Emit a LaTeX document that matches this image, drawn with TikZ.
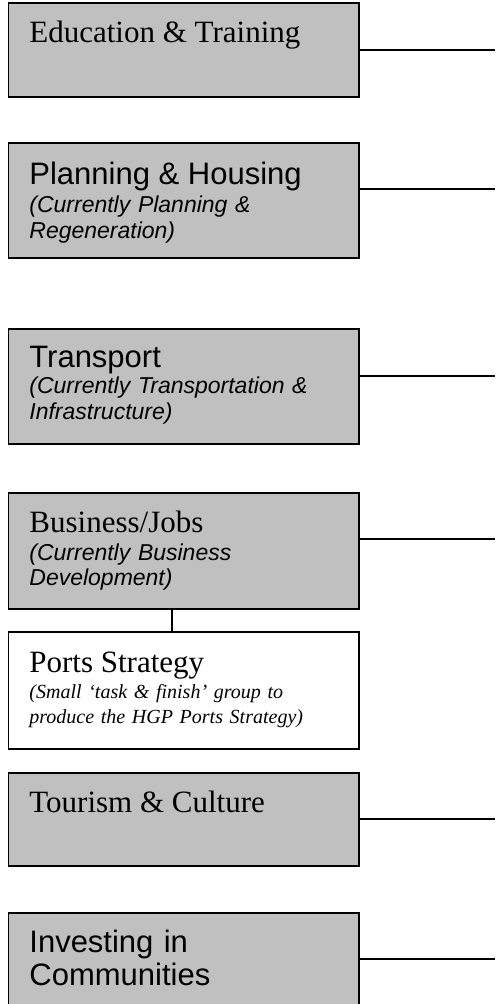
\documentclass[tikz,border=0pt]{standalone}
\usepackage{fontspec}
\setmainfont{Liberation Serif}
\setsansfont{Liberation Sans}
\usepackage{tikz}
\usetikzlibrary{fit}
\definecolor{boxgrey}{HTML}{C0C0C0}

\begin{document}
\begin{tikzpicture}[x=0.5pt,y=-0.5pt,
  group/.style={draw=black, line width=0.7pt, fill=boxgrey, inner sep=0pt},
  subgroup/.style={group, fill=white},
  link/.style={draw=black, line width=0.6pt},
  title/.style={anchor=base west, inner sep=0pt, font=\fontsize{15.5}{16.8}\selectfont},
  sanstitle/.style={title, font=\sffamily\fontsize{15.5}{16.8}\selectfont},
  note/.style={anchor=base west, inner sep=0pt, text width=170pt, align=left,
    font=\sffamily\itshape\fontsize{11.5}{12.7}\selectfont},
  smallnote/.style={note, font=\rmfamily\itshape\fontsize{10}{12.5}\selectfont}]
\useasboundingbox (0,0) rectangle (495,1004);
\clip (0,0) rectangle (495,1004);

% boxes
\node [group, fit={(8.5,3) (359,97)}] (edu) {};
\node [group, fit={(8.5,143) (359,258)}] (plan) {};
\node [group, fit={(8.5,329) (359,444)}] (trans) {};
\node [group, fit={(8.5,493) (359,609)}] (bus) {};
\node [subgroup, fit={(8.5,632) (359,749)}] (ports) {};
\node [group, fit={(8.5,773) (359,866)}] (tour) {};
\node [group, fit={(8.5,913) (359,1060)}] (inv) {};

% texts
\node [title] at (29,43) {Education \& Training};
\node [sanstitle] at (29,185) {Planning \& Housing};
\node [note] at (29,213) {(Currently Planning \&\\Regeneration)};
\node [sanstitle] at (29,368) {Transport};
\node [note] at (29,394) {(Currently Transportation \&\\Infrastructure)};
\node [title] at (29,532) {Business/Jobs};
\node [note] at (29,560) {(Currently Business\\Development)};
\node [title] at (29,672) {Ports Strategy};
\node [smallnote] at (29,698) {(Small `task \& finish' group to\\produce the HGP Ports Strategy)};
\node [title] at (29,812) {Tourism \& Culture};
\node [sanstitle, text width=170pt, align=left] at (29,952) {Investing in\\Communities};

% connectors
\coordinate (eduR) at (495,50);
\coordinate (planR) at (495,189);
\coordinate (transR) at (495,376);
\coordinate (busR) at (495,539);
\coordinate (tourR) at (495,819);
\coordinate (invR) at (495,959);
\draw [link] (eduR -| edu.east) -- (eduR);
\draw [link] (planR -| plan.east) -- (planR);
\draw [link] (transR -| trans.east) -- (transR);
\draw [link] (busR -| bus.east) -- (busR);
\draw [link] (tourR -| tour.east) -- (tourR);
\draw [link] (invR -| inv.east) -- (invR);
\draw [link] (bus.south -| 172,0) -- (ports.north -| 172,0);
\end{tikzpicture}
\end{document}
